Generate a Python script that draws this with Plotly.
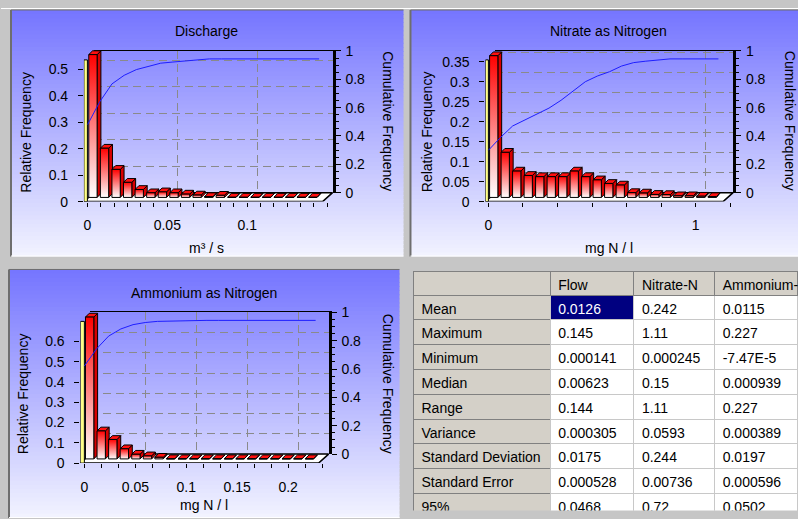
import numpy as np
import plotly.graph_objects as go

W, H = 798, 519
FONT = "Liberation Sans, Arial, sans-serif"
# measured placement of the figure in the returned picture: y_pic = 8 + S * y_fig
TOP_OFF, S = 8.0, 504.0 / 519.0

# ---------------- data ----------------
table_header = ["", "Flow", "Nitrate-N", "Ammonium-N"]
stat_names = ["Mean", "Maximum", "Minimum", "Median", "Range", "Variance",
              "Standard\u00a0Deviation", "Standard\u00a0Error", "95%"]
flow_stats = ["0.0126", "0.145", "0.000141", "0.00623", "0.144", "0.000305",
              "0.0175", "0.000528", "0.0468"]
nitrate_stats = ["0.242", "1.11", "0.000245", "0.15", "1.11", "0.0593",
                 "0.244", "0.00736", "0.72"]
ammonium_stats = ["0.0115", "0.227", "-7.47E-5", "0.000939", "0.227", "0.000389",
                  "0.0197", "0.000596", "0.0502"]

chart_titles = ["Discharge", "Nitrate as Nitrogen", "Ammonium as Nitrogen"]
x_titles = ["m³ / s", "mg N / l", "mg N / l"]
y_title = "Relative Frequency"
y2_title = "Cumulative Frequency"

discharge_rel = [0.54, 0.186, 0.106, 0.057, 0.030, 0.0175, 0.021, 0.0175, 0.0125, 0.009,
                 0.003, 0.008, 0.001, 0.001, 0.001, 0.001, 0.001, 0.001, 0.001, 0.001]
discharge_cum = [0.54, 0.70, 0.825, 0.885, 0.925, 0.947, 0.97, 0.978, 0.986, 0.995,
                 1.0, 1.0, 1.0, 1.0, 1.0, 1.0, 1.0, 1.0, 1.0, 1.0]
nitrate_rel = [0.355, 0.113, 0.066, 0.055, 0.052, 0.052, 0.052, 0.066, 0.052, 0.044,
               0.035, 0.031, 0.012, 0.011, 0.0075, 0.007, 0.004, 0.004, 0.003, 0.002]
nitrate_cum = [0.36, 0.45, 0.53, 0.57, 0.615, 0.655, 0.71, 0.775, 0.84, 0.88,
               0.91, 0.95, 0.974, 0.984, 0.992, 1.0, 1.0, 1.0, 1.0, 1.0]
ammonium_rel = [0.70, 0.138, 0.096, 0.050, 0.023, 0.015, 0.008, 0.001, 0.001, 0.001,
                0.001, 0.001, 0.001, 0.001, 0.001, 0.001, 0.001, 0.001, 0.001, 0.001]
ammonium_cum = [0.68, 0.80, 0.89, 0.94, 0.97, 0.985, 0.993, 0.996, 0.998, 1.0,
                1.0, 1.0, 1.0, 1.0, 1.0, 1.0, 1.0, 1.0, 1.0, 1.0]

discharge_xticks = [0, 0.05, 0.1]
nitrate_xticks = [0, 1]
ammonium_xticks = [0, 0.05, 0.1, 0.15, 0.2]
discharge_yticks = [0, 0.1, 0.2, 0.3, 0.4, 0.5]
nitrate_yticks = [0, 0.05, 0.1, 0.15, 0.2, 0.25, 0.3, 0.35]
ammonium_yticks = [0, 0.1, 0.2, 0.3, 0.4, 0.5, 0.6]
cum_ticks = [0, 0.2, 0.4, 0.6, 0.8, 1]

series = [
    dict(rel=discharge_rel, cum=discharge_cum, vmin=float(flow_stats[2]), vmax=float(flow_stats[1]),
         xt=discharge_xticks, yt=discharge_yticks),
    dict(rel=nitrate_rel, cum=nitrate_cum, vmin=float(nitrate_stats[2]), vmax=float(nitrate_stats[1]),
         xt=nitrate_xticks, yt=nitrate_yticks),
    dict(rel=ammonium_rel, cum=ammonium_cum, vmin=float(ammonium_stats[2]), vmax=float(ammonium_stats[1]),
         xt=ammonium_xticks, yt=ammonium_yticks),
]

# ---------------- geometry / style (reference-picture pixels) ----------------
geom = [
    dict(panel=(10, 10, 403, 257), x0=86.5, pxx=1600, wall=83, base=202, pxy=265, top=45, bright=332,
         minor=0.05 / 6, title=(206, 31), xtitle=(206, 248), ylab=(25, 132), clab=(388, 121)),
    dict(panel=(410, 10, 798, 257), x0=488, pxx=207.5, wall=485, base=202, pxy=400, top=45, bright=733,
         minor=1 / 6, title=(608, 31), xtitle=(609, 248), ylab=(426, 132), clab=(790, 121)),
    dict(panel=(8, 270, 399, 519), x0=83.5, pxx=1020, wall=79.5, base=464, pxy=203, top=307, bright=328,
         minor=0.05 / 3, title=(203, 294), xtitle=(203, 506), ylab=(22, 394), clab=(387, 384)),
]
DX, DY, BACKH, CUMPX = 10, 9, 142, 143


def fx(px):
    return px / W


def fy(py):
    return 1 - ((py - TOP_OFF) / S) / H


def fmt(v):
    return f"{round(v, 6):g}"


fig = go.Figure()
shapes = []
annotations = []
layout_axes = {}

# white strip along the top of the window
shapes.append(dict(type="rect", xref="paper", yref="paper", x0=0, x1=1, y0=fy(9), y1=1,
                   fillcolor="white", line=dict(width=0), layer="below"))

# panel gradients
c_top = np.array([118, 118, 255])
c_bot = np.array([242, 243, 255])
for g in geom:
    l, t, r, b = g["panel"]
    n = 60
    hh = (b - t) / n
    for k in range(n):
        c = c_top + (c_bot - c_top) * (k / (n - 1))
        col = f"rgb({int(c[0])},{int(c[1])},{int(c[2])})"
        y0p = t + k * hh
        y1p = min(b, y0p + hh + 0.8)
        shapes.append(dict(type="rect", xref="paper", yref="paper", x0=fx(l), x1=fx(r),
                           y0=fy(y1p), y1=fy(y0p), fillcolor=col, line=dict(width=0), layer="below"))
    shapes.append(dict(type="line", xref="paper", yref="paper", x0=fx(l), x1=fx(l), y0=fy(b), y1=fy(t),
                       line=dict(color="#6e6e6e", width=2), layer="below"))
    shapes.append(dict(type="line", xref="paper", yref="paper", x0=fx(l), x1=fx(r), y0=fy(t), y1=fy(t),
                       line=dict(color="#6e6e6e", width=1), layer="below"))
    shapes.append(dict(type="line", xref="paper", yref="paper", x0=fx(l), x1=fx(r), y0=fy(b - 0.5), y1=fy(b - 0.5),
                       line=dict(color="#ffffff", width=1), layer="below"))

tickfont = dict(family=FONT, size=14, color="black")
gridcol = "#8a8a8a"
nofill_trace = dict(mode="lines", hoverinfo="skip", showlegend=False)

for k, (s, g) in enumerate(zip(series, geom)):
    xb, xf = 2 * k + 1, 2 * k + 2
    yb, yr, yf, yc = 4 * k + 1, 4 * k + 2, 4 * k + 3, 4 * k + 4
    x0, pxx, pxy, base = g["x0"], g["pxx"], g["pxy"], g["base"]
    bright = g["bright"]
    back_left = g["wall"] + DX
    ymax_back = BACKH / pxy

    # ---- back wall axes ----
    layout_axes[f"xaxis{xb}"] = dict(
        domain=[fx(back_left), min(1, fx(bright))],
        range=[(back_left - (x0 + DX)) / pxx, (bright - (x0 + DX)) / pxx],
        anchor=f"y{yb}", side="top", showline=True, linecolor="black", linewidth=1,
        ticks="", showticklabels=False, showgrid=True, gridcolor=gridcol, griddash="8px,5px",
        gridwidth=1, tickmode="array", tickvals=[v for v in s["xt"] if v > 0], zeroline=False,
        fixedrange=True)
    layout_axes[f"yaxis{yb}"] = dict(
        domain=[fy(base - DY), fy(base - DY - BACKH)], range=[0, ymax_back], anchor=f"x{xb}",
        showline=False, ticks="", showticklabels=False, showgrid=True, gridcolor=gridcol,
        griddash="8px,5px", gridwidth=1, tickmode="array", tickvals=[v for v in s["yt"] if v > 0],
        zeroline=False, fixedrange=True)
    layout_axes[f"yaxis{yr}"] = dict(
        overlaying=f"y{yb}", anchor=f"x{xb}", side="right", range=[0, 1], showline=True,
        linecolor="black", linewidth=3, ticks="outside", ticklen=5, tickcolor="black",
        tickmode="array", tickvals=cum_ticks, ticktext=[fmt(v) for v in cum_ticks],
        minor=dict(tickmode="linear", tick0=0, dtick=0.05, ticks="outside", ticklen=3,
                   tickcolor="black", showgrid=False),
        showgrid=False, zeroline=False, tickfont=tickfont, ticklabelstandoff=2, fixedrange=True)

    # ---- front plane axes ----
    fr_right = bright + 2
    layout_axes[f"xaxis{xf}"] = dict(
        domain=[fx(g["wall"]), min(1, fx(fr_right))],
        range=[(g["wall"] - x0) / pxx, (fr_right - x0) / pxx], anchor=f"y{yf}",
        showline=False, ticks="outside", ticklen=4, tickcolor="black", tickmode="array",
        tickvals=s["xt"], ticktext=[fmt(v) for v in s["xt"]],
        minor=dict(tickmode="linear", tick0=0, dtick=g["minor"], ticks="outside", ticklen=4,
                   tickcolor="black", showgrid=False),
        showgrid=False, zeroline=False, tickfont=tickfont, ticklabelstandoff=7, fixedrange=True)
    layout_axes[f"yaxis{yf}"] = dict(
        domain=[fy(base), fy(g["top"])], range=[0, (base - g["top"]) / pxy], anchor=f"x{xf}",
        showline=False, ticks="outside", ticklen=5, tickcolor="black", tickmode="array",
        tickvals=s["yt"], ticktext=[fmt(v) for v in s["yt"]], showgrid=False, zeroline=False,
        tickfont=tickfont, ticklabelstandoff=7, fixedrange=True)
    layout_axes[f"yaxis{yc}"] = dict(
        overlaying=f"y{yf}", anchor=f"x{xf}", range=[0, (base - g["top"]) / CUMPX], visible=False,
        fixedrange=True)

    # dummy traces so the back subplot and right axis are drawn
    fig.add_trace(go.Scatter(x=[None], y=[None], xaxis=f"x{xb}", yaxis=f"y{yb}", **nofill_trace))
    fig.add_trace(go.Scatter(x=[None], y=[None], xaxis=f"x{xb}", yaxis=f"y{yr}", **nofill_trace))

    # floor
    xl_f = (g["wall"] - x0) / pxx
    xr_f = (bright - DX - x0) / pxx
    dxd, dyd = DX / pxx, DY / pxy
    fig.add_trace(go.Scatter(
        x=[xl_f, xr_f, xr_f + dxd, xl_f + dxd, xl_f], y=[0, 0, dyd, dyd, 0],
        fill="toself", fillcolor="white", line=dict(color="black", width=1.5),
        xaxis=f"x{xf}", yaxis=f"y{yf}", **nofill_trace))
    # left wall
    fig.add_trace(go.Scatter(
        x=[xl_f, 0, 0, xl_f, xl_f], y=[0, 0, ymax_back, ymax_back, 0],
        fill="toself", fillcolor="#ffff88", line=dict(color="black", width=1),
        xaxis=f"x{xf}", yaxis=f"y{yf}", **nofill_trace))

    # bars
    edges = np.linspace(s["vmin"], s["vmax"], len(s["rel"]) + 1)
    bw = edges[1] - edges[0]
    ddx, ddy = 3.8 / pxx, 3.8 / pxy
    b0 = 4.2 / pxy
    sx, sy, tx, ty, fronts = [], [], [], [], []
    for i, v in enumerate(s["rel"]):
        xl = edges[i] + 0.10 * bw
        xr = xl + 0.72 * bw
        tp = b0 + v
        sx += [xr, xr + ddx, xr + ddx, xr, xr, None]
        sy += [b0, b0 + ddy, tp + ddy, tp, b0, None]
        tx += [xl, xr, xr + ddx, xl + ddx, xl, None]
        ty += [tp, tp, tp + ddy, tp + ddy, tp, None]
        fronts.append(([xl, xr, xr, xl, xl], [b0, b0, tp, tp, b0]))
    fig.add_trace(go.Scatter(x=sx, y=sy, fill="toself", fillcolor="#d80000",
                             line=dict(color="black", width=1), xaxis=f"x{xf}", yaxis=f"y{yf}",
                             **nofill_trace))
    fig.add_trace(go.Scatter(x=tx, y=ty, fill="toself", fillcolor="#ff1010",
                             line=dict(color="black", width=1), xaxis=f"x{xf}", yaxis=f"y{yf}",
                             **nofill_trace))
    for (fxs, fys) in fronts:
        fig.add_trace(go.Scatter(
            x=fxs, y=fys, fill="toself",
            fillgradient=dict(type="vertical", colorscale=[[0, "#ffffff"], [1, "#ff0000"]]),
            line=dict(color="black", width=1), xaxis=f"x{xf}", yaxis=f"y{yf}", **nofill_trace))

    # cumulative line
    xc = np.linspace(s["vmin"], s["vmax"], len(s["cum"]))
    fig.add_trace(go.Scatter(x=xc, y=s["cum"], line=dict(color="#1e1eff", width=1),
                             xaxis=f"x{xf}", yaxis=f"y{yc}", **nofill_trace))

    # texts
    annotations.append(dict(text=chart_titles[k], x=fx(g["title"][0]), y=fy(g["title"][1]),
                            xref="paper", yref="paper", showarrow=False, xanchor="center",
                            yanchor="middle", font=dict(family=FONT, size=14, color="black")))
    annotations.append(dict(text=x_titles[k], x=fx(g["xtitle"][0]), y=fy(g["xtitle"][1]),
                            xref="paper", yref="paper", showarrow=False, xanchor="center",
                            yanchor="middle", font=dict(family=FONT, size=14, color="black")))
    annotations.append(dict(text=y_title, x=fx(g["ylab"][0]), y=fy(g["ylab"][1]), textangle=-90,
                            xref="paper", yref="paper", showarrow=False, xanchor="center",
                            yanchor="middle", font=dict(family=FONT, size=14, color="black")))
    annotations.append(dict(text=y2_title, x=fx(g["clab"][0]), y=fy(g["clab"][1]), textangle=90,
                            xref="paper", yref="paper", showarrow=False, xanchor="center",
                            yanchor="middle", font=dict(family=FONT, size=14, color="black")))

# ---------------- statistics table ----------------
grey = "#d4d0c8"
n = len(stat_names)
table_top = fy(272)
avail = table_top * H                      # figure pixels available below the table top
head_h = 23 / S
row_h = min(24.7 / S, (avail - head_h - 0.5) / n)
fig.add_trace(go.Table(
    domain=dict(x=[fx(413), 1], y=[0, table_top]),
    columnwidth=[137, 84, 81, 83],
    header=dict(values=table_header, fill_color=grey, line_color="#808080", align="left",
                font=dict(family=FONT, size=14, color="black"), height=head_h),
    cells=dict(values=[stat_names, flow_stats, nitrate_stats, ammonium_stats],
               fill_color=[[grey] * n, ["#000080"] + ["white"] * (n - 1), ["white"] * n, ["white"] * n],
               font=dict(family=FONT, size=14,
                         color=[["black"] * n, ["white"] + ["black"] * (n - 1), ["black"] * n, ["black"] * n]),
               line_color=["#808080", "#c8c8c8", "#c8c8c8", "#c8c8c8"], align="left", height=row_h),
))

fig.update_layout(
    width=W, height=H, margin=dict(l=0, r=0, t=0, b=0),
    paper_bgcolor="#c6c6c6", plot_bgcolor="rgba(0,0,0,0)",
    showlegend=False, shapes=shapes, annotations=annotations,
    font=dict(family=FONT, size=14, color="black"),
    **layout_axes,
)

fig.write_html("out.html",
               config={"displayModeBar": False, "staticPlot": True},
               post_script="document.body.style.margin='0px';document.body.style.overflow='hidden';")
